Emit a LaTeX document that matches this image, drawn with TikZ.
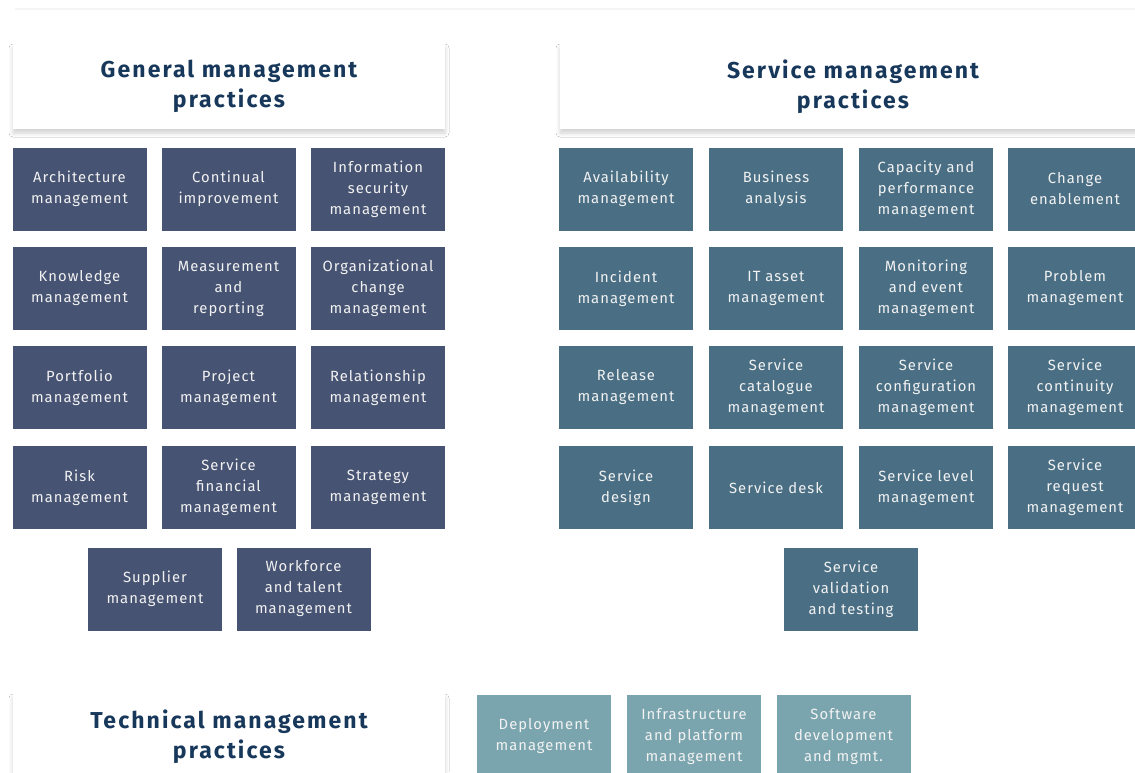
\documentclass[tikz,border=0pt]{standalone}
\usepackage{fontspec}
\setmainfont{Fira Sans}[LetterSpace=7]
\newfontfamily\headfont{Fira Sans}[LetterSpace=9]
\usetikzlibrary{shadows.blur}
\definecolor{genfill}{HTML}{465372}
\definecolor{servfill}{HTML}{4A6F84}
\definecolor{techfill}{HTML}{7BA5AE}
\definecolor{titlecol}{HTML}{17385A}
\definecolor{boxtext}{HTML}{F2F2F2}
\tikzset{
  pbox/.style={rectangle, minimum width=134pt, minimum height=83pt, inner sep=0pt,
    align=center, text=boxtext, font=\fontsize{14.8}{21}\selectfont},
  gbox/.style={pbox, fill=genfill},
  sbox/.style={pbox, fill=servfill},
  tbox/.style={pbox, fill=techfill},
  header/.style={rectangle, fill=white, minimum height=85pt, inner sep=0pt, align=center,
    text=titlecol, font=\headfont\fontsize{23}{30}\selectfont\bfseries,
    blur shadow={shadow xshift=0pt, shadow yshift=-4pt, shadow blur radius=4pt, shadow opacity=18}}
}
\begin{document}
\begin{tikzpicture}[x=1pt,y=-1pt]
\useasboundingbox (0,0) rectangle (1135,772);
\clip (0,0) rectangle (1135,772);
\fill[white] (0,0) rectangle (1135,772);
\draw[line width=2pt, black!4] (15,9) -- (1135,9);
% headers
\node[header, minimum width=432pt] (gh) at (229,86.5) {General management\\practices};
\node[header, minimum width=586pt] (sh) at (853,86.5) {Service management\\practices};
\node[header, minimum width=432pt] (th) at (229,736.5) {Technical management\\practices};
% general management practices
\node[gbox] (g11) at (79.5,189) {Architecture\\management};
\node[gbox] (g12) at (228.5,189) {Continual\\improvement};
\node[gbox] (g13) at (378,189) {Information\\security\\management};
\node[gbox] (g21) at (79.5,288.5) {Knowledge\\management};
\node[gbox] (g22) at (228.5,288.5) {Measurement\\and\\reporting};
\node[gbox] (g23) at (378,288.5) {Organizational\\change\\management};
\node[gbox] (g31) at (79.5,387.5) {Portfolio\\management};
\node[gbox] (g32) at (228.5,387.5) {Project\\management};
\node[gbox] (g33) at (378,387.5) {Relationship\\management};
\node[gbox] (g41) at (79.5,487.5) {Risk\\management};
\node[gbox] (g42) at (228.5,487.5) {Service\\financial\\management};
\node[gbox] (g43) at (378,487.5) {Strategy\\management};
\node[gbox] (g51) at (155,589) {Supplier\\management};
\node[gbox] (g52) at (303.5,589) {Workforce\\and talent\\management};
% service management practices
\node[sbox] (s11) at (626,189) {Availability\\management};
\node[sbox] (s12) at (776,189) {Business\\analysis};
\node[sbox] (s13) at (926,189) {Capacity and\\performance\\management};
\node[sbox] (s14) at (1075,189) {Change\\enablement};
\node[sbox] (s21) at (626,288.5) {Incident\\management};
\node[sbox] (s22) at (776,288.5) {IT asset\\management};
\node[sbox] (s23) at (926,288.5) {Monitoring\\and event\\management};
\node[sbox] (s24) at (1075,288.5) {Problem\\management};
\node[sbox] (s31) at (626,387.5) {Release\\management};
\node[sbox] (s32) at (776,387.5) {Service\\catalogue\\management};
\node[sbox] (s33) at (926,387.5) {Service\\configuration\\management};
\node[sbox] (s34) at (1075,387.5) {Service\\continuity\\management};
\node[sbox] (s41) at (626,487.5) {Service\\design};
\node[sbox] (s42) at (776,487.5) {Service desk};
\node[sbox] (s43) at (926,487.5) {Service level\\management};
\node[sbox] (s44) at (1075,487.5) {Service\\request\\management};
\node[sbox] (s51) at (851,589) {Service\\validation\\and testing};
% technical management practices
\node[tbox] (t1) at (544,736.5) {Deployment\\management};
\node[tbox] (t2) at (694,736.5) {Infrastructure\\and platform\\management};
\node[tbox] (t3) at (843.5,736.5) {Software\\development\\and mgmt.};
\end{tikzpicture}
\end{document}
